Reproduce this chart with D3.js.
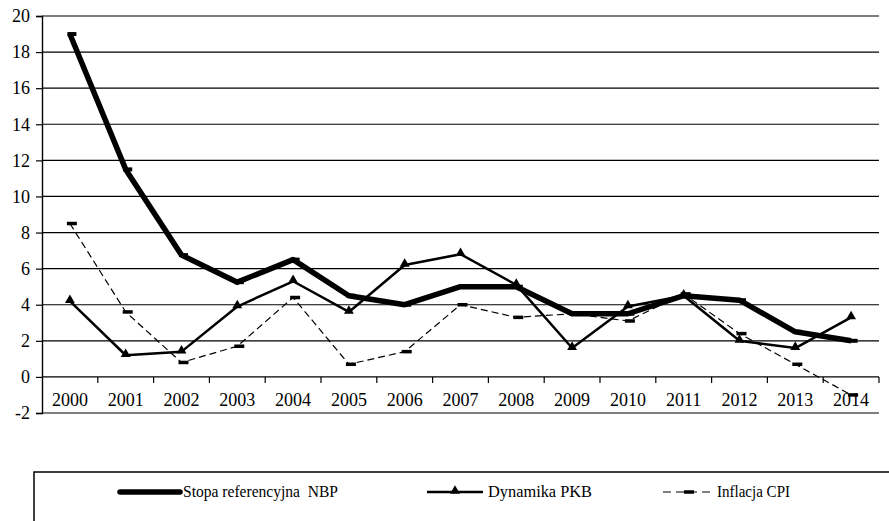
<!DOCTYPE html>
<html>
<head>
<meta charset="utf-8">
<script src="https://cdn.jsdelivr.net/npm/d3@7/dist/d3.min.js"></script>
<style>
  html, body { margin: 0; padding: 0; background: #fff; }
  svg { display: block; }
</style>
</head>
<body>
<svg id="chart" width="889" height="521"></svg>
<script>
// Years on the category axis
const years = ["2000","2001","2002","2003","2004","2005","2006","2007","2008","2009","2010","2011","2012","2013","2014"];

// NBP reference rate (%)
const stopaNBP = [19.0, 11.5, 6.75, 5.25, 6.5, 4.5, 4.0, 5.0, 5.0, 3.5, 3.5, 4.5, 4.25, 2.5, 2.0];
// GDP growth (%)
const dynamikaPKB = [4.2, 1.2, 1.4, 3.9, 5.3, 3.6, 6.2, 6.8, 5.1, 1.6, 3.9, 4.5, 2.0, 1.6, 3.3];
// CPI inflation (%)
const inflacjaCPI = [8.5, 3.6, 0.8, 1.7, 4.4, 0.7, 1.4, 4.0, 3.3, 3.5, 3.1, 4.6, 2.4, 0.7, -1.0];

// Value axis ticks
const yTicks = [-2, 0, 2, 4, 6, 8, 10, 12, 14, 16, 18, 20];

const legendLabels = ["Stopa referencyjna  NBP", "Dynamika PKB", "Inflacja CPI"];

const FONT = '"Liberation Serif"';

const svg = d3.select("#chart");

const x = d3.scaleBand().domain(years).range([42, 879]);
const y = d3.scaleLinear().domain([-2, 20]).range([413, 16]);
const cx = d => x(d) + x.bandwidth() / 2;

// Horizontal gridlines
svg.append("g")
  .selectAll("line")
  .data(yTicks)
  .join("line")
  .attr("x1", 42).attr("x2", 879)
  .attr("y1", d => y(d)).attr("y2", d => y(d))
  .attr("stroke", "#000").attr("stroke-width", 1.2);

// Value axis
const yAxis = d3.axisLeft(y).tickValues(yTicks).tickSize(6).tickPadding(6).tickFormat(d => String(d));
const gy = svg.append("g").attr("transform", "translate(42,0)").call(yAxis);
gy.attr("font-family", null).attr("font-size", null);
gy.select(".domain").attr("stroke", "#000").attr("stroke-width", 1.4);
gy.selectAll(".tick line").attr("stroke", "#000").attr("stroke-width", 1.2);
gy.selectAll(".tick text")
  .attr("x", -12)
  .attr("fill", "#000")
  .style("font-family", FONT)
  .style("font-size", "18px");

// Category axis crossing at zero: tick marks on category boundaries
const boundaries = years.map(d => x(d)).concat([879]);
svg.append("g")
  .selectAll("line")
  .data(boundaries.slice(1))
  .join("line")
  .attr("x1", d => d).attr("x2", d => d)
  .attr("y1", y(0)).attr("y2", y(0) + 6)
  .attr("stroke", "#000").attr("stroke-width", 1.2);

svg.append("g")
  .selectAll("text")
  .data(years)
  .join("text")
  .attr("x", d => cx(d))
  .attr("y", 406)
  .attr("text-anchor", "middle")
  .attr("fill", "#000")
  .style("font-family", FONT)
  .style("font-size", "18px")
  .text(d => d);

// Series
const line = d3.line().x((d, i) => cx(years[i])).y(d => y(d));

function dashMarker(g, data, w, h) {
  g.selectAll(null)
    .data(data)
    .join("rect")
    .attr("x", (d, i) => cx(years[i]) - w / 2 + 2)
    .attr("y", d => y(d) - h / 2)
    .attr("width", w).attr("height", h)
    .attr("fill", "#000");
}

const tri = d3.symbol().type(d3.symbolTriangle).size(42);

// Stopa referencyjna NBP
const gNBP = svg.append("g");
gNBP.append("path").datum(stopaNBP)
  .attr("d", line)
  .attr("fill", "none").attr("stroke", "#000")
  .attr("stroke-width", 5.5).attr("stroke-linejoin", "round");
dashMarker(gNBP, stopaNBP, 9, 4);

// Dynamika PKB
const gPKB = svg.append("g");
gPKB.append("path").datum(dynamikaPKB)
  .attr("d", line)
  .attr("fill", "none").attr("stroke", "#000")
  .attr("stroke-width", 2.5).attr("stroke-linejoin", "round");
gPKB.selectAll(null)
  .data(dynamikaPKB)
  .join("path")
  .attr("d", tri)
  .attr("transform", (d, i) => `translate(${cx(years[i])},${y(d) - 1})`)
  .attr("fill", "#000");

// Inflacja CPI
const gCPI = svg.append("g");
gCPI.append("path").datum(inflacjaCPI)
  .attr("d", line)
  .attr("fill", "none").attr("stroke", "#000")
  .attr("stroke-width", 1.2).attr("stroke-dasharray", "7,4");
dashMarker(gCPI, inflacjaCPI, 10, 3.5);

// Legend
const leg = svg.append("g");
leg.append("rect")
  .attr("x", 34).attr("y", 472)
  .attr("width", 900).attr("height", 100)
  .attr("fill", "none").attr("stroke", "#000").attr("stroke-width", 1.5);

const ly = 492;
// NBP sample
leg.append("line").attr("x1", 120).attr("x2", 180).attr("y1", ly).attr("y2", ly)
  .attr("stroke", "#000").attr("stroke-width", 5.5).attr("stroke-linecap", "round");
// PKB sample
leg.append("line").attr("x1", 427).attr("x2", 483).attr("y1", ly).attr("y2", ly)
  .attr("stroke", "#000").attr("stroke-width", 2.5);
leg.append("path").attr("d", tri).attr("transform", `translate(455,${ly - 1})`).attr("fill", "#000");
// CPI sample
leg.append("line").attr("x1", 663).attr("x2", 713).attr("y1", ly).attr("y2", ly)
  .attr("stroke", "#000").attr("stroke-width", 1.2).attr("stroke-dasharray", "8,5");
leg.append("rect").attr("x", 684).attr("y", ly - 1.75).attr("width", 10).attr("height", 3.5).attr("fill", "#000");

leg.append("g")
  .selectAll("text")
  .data(legendLabels)
  .join("text")
  .attr("x", (d, i) => [183, 488, 717][i])
  .attr("y", ly + 5)
  .attr("textLength", (d, i) => [155, 104, 73][i])
  .attr("lengthAdjust", "spacingAndGlyphs")
  .attr("fill", "#000")
  .style("font-family", FONT)
  .style("font-size", "16px")
  .style("white-space", "pre")
  .text(d => d);
</script>
</body>
</html>
